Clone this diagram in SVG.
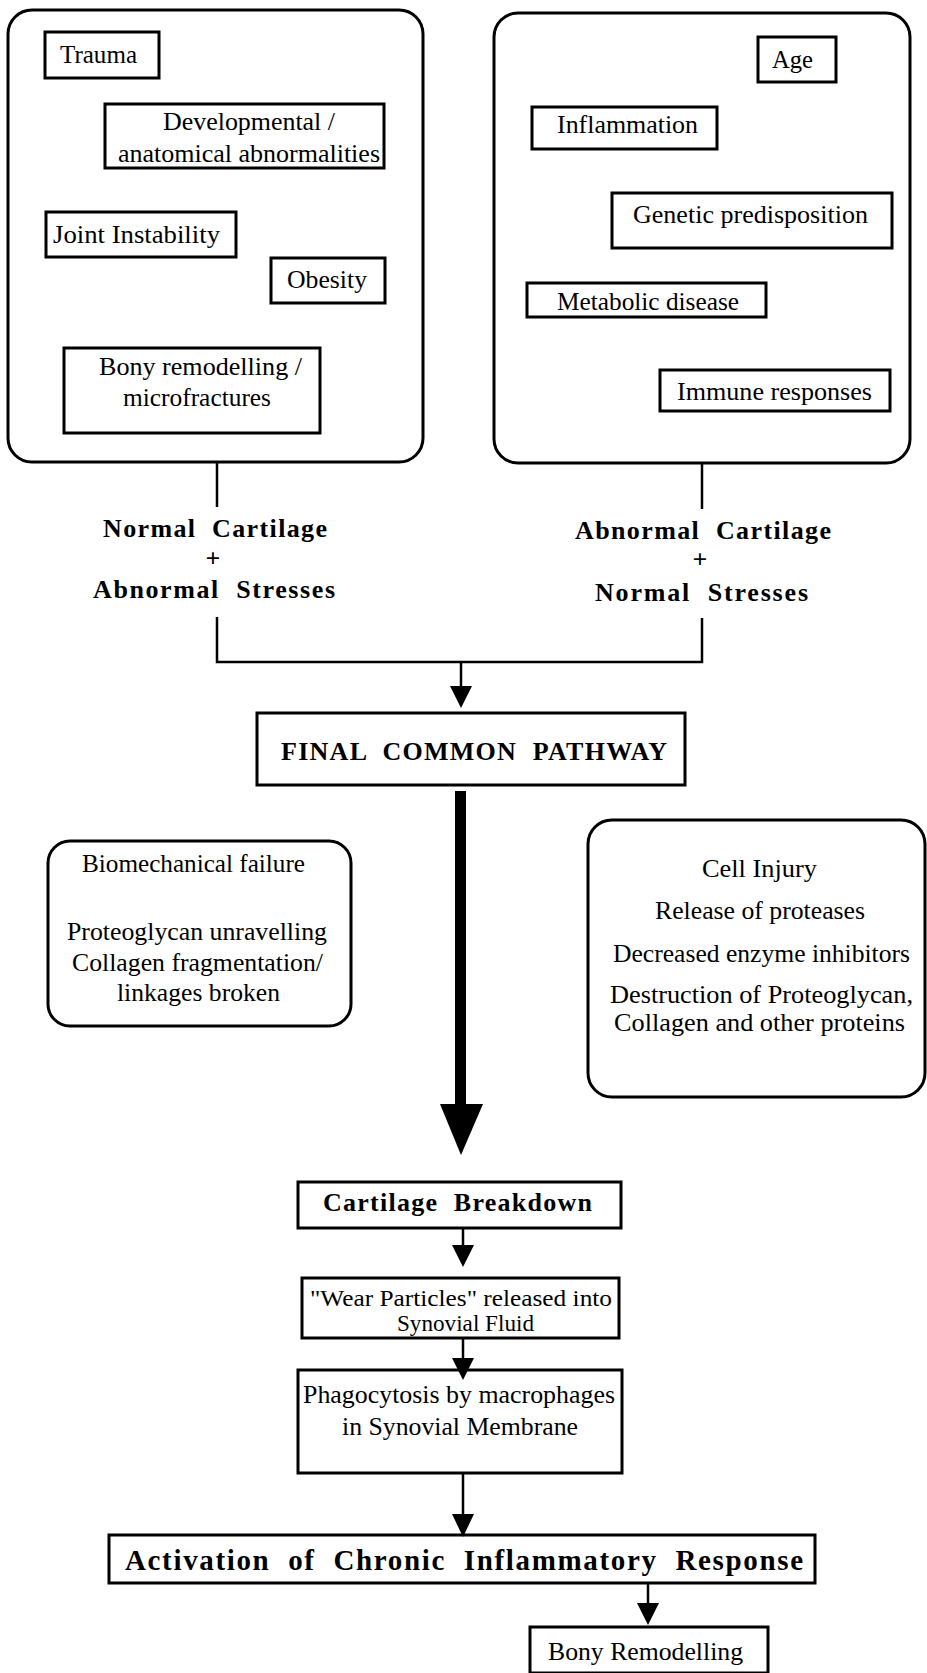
<svg xmlns="http://www.w3.org/2000/svg" width="927" height="1673" viewBox="0 0 927 1673">
<style>
.box{fill:#fff;stroke:#000;stroke-width:3}
.rbox{fill:#fff;stroke:#000;stroke-width:3}
.ln{fill:none;stroke:#000;stroke-width:2.5}
.hd{fill:#000;stroke:none}
.t{font-family:"Liberation Serif","Times New Roman",serif;font-size:26px;fill:#000}
.b{font-family:"Liberation Serif","Times New Roman",serif;font-size:26px;font-weight:bold;fill:#000}
</style>
<rect width="927" height="1673" fill="#fff"/>

<g id="risk-mechanical">
<rect class="rbox" x="8" y="10" width="415" height="452" rx="24"/>
<g id="trauma"><rect class="box" x="45" y="32" width="114" height="46"/><text class="t" x="60" y="63" textLength="77" lengthAdjust="spacingAndGlyphs">Trauma</text></g>
<g id="developmental"><rect class="box" x="105" y="104" width="279" height="64"/><text class="t" x="163" y="130" textLength="172" lengthAdjust="spacingAndGlyphs">Developmental /</text><text class="t" x="118" y="162" textLength="262" lengthAdjust="spacingAndGlyphs">anatomical abnormalities</text></g>
<g id="joint-instability"><rect class="box" x="46" y="212" width="190" height="45"/><text class="t" x="53" y="243" textLength="167" lengthAdjust="spacingAndGlyphs">Joint Instability</text></g>
<g id="obesity"><rect class="box" x="271" y="258" width="114" height="45"/><text class="t" x="287" y="288" textLength="80" lengthAdjust="spacingAndGlyphs">Obesity</text></g>
<g id="bony-remodelling-micro"><rect class="box" x="64" y="348" width="256" height="85"/><text class="t" x="99" y="375" textLength="203" lengthAdjust="spacingAndGlyphs">Bony remodelling /</text><text class="t" x="123" y="406" textLength="148" lengthAdjust="spacingAndGlyphs">microfractures</text></g>
</g>

<g id="risk-systemic">
<rect class="rbox" x="494" y="13" width="416" height="450" rx="24"/>
<g id="age"><rect class="box" x="758" y="37" width="78" height="45"/><text class="t" x="772" y="68" textLength="41" lengthAdjust="spacingAndGlyphs">Age</text></g>
<g id="inflammation"><rect class="box" x="532" y="107" width="185" height="42"/><text class="t" x="557" y="133" textLength="141" lengthAdjust="spacingAndGlyphs">Inflammation</text></g>
<g id="genetic"><rect class="box" x="612" y="193" width="280" height="55"/><text class="t" x="633" y="223" textLength="235" lengthAdjust="spacingAndGlyphs">Genetic predisposition</text></g>
<g id="metabolic"><rect class="box" x="527" y="283" width="239" height="34"/><text class="t" x="557" y="310" textLength="182" lengthAdjust="spacingAndGlyphs">Metabolic disease</text></g>
<g id="immune"><rect class="box" x="660" y="370" width="230" height="41"/><text class="t" x="677" y="400" textLength="195" lengthAdjust="spacingAndGlyphs">Immune responses</text></g>
</g>

<g id="label-left">
<text class="b" x="103" y="537" textLength="224" xml:space="preserve">Normal  Cartilage</text>
<text class="b" x="213" y="567" text-anchor="middle">+</text>
<text class="b" x="93" y="598" textLength="242" xml:space="preserve">Abnormal  Stresses</text>
</g>
<g id="label-right">
<text class="b" x="575" y="539" textLength="256" xml:space="preserve">Abnormal  Cartilage</text>
<text class="b" x="700" y="568" text-anchor="middle">+</text>
<text class="b" x="595" y="601" textLength="213" xml:space="preserve">Normal  Stresses</text>
</g>

<g id="final-common-pathway"><rect class="box" x="257" y="713" width="428" height="72"/><text class="b" x="281" y="760" textLength="386" xml:space="preserve">FINAL  COMMON  PATHWAY</text></g>

<g id="biomechanical"><rect class="rbox" x="48" y="841" width="303" height="185" rx="22"/>
<text class="t" x="82" y="872" textLength="223" lengthAdjust="spacingAndGlyphs">Biomechanical failure</text>
<text class="t" x="67" y="940" textLength="260" lengthAdjust="spacingAndGlyphs">Proteoglycan unravelling</text>
<text class="t" x="72" y="971" textLength="251" lengthAdjust="spacingAndGlyphs">Collagen fragmentation/</text>
<text class="t" x="117" y="1001" textLength="163" lengthAdjust="spacingAndGlyphs">linkages broken</text>
</g>

<g id="cell-injury"><rect class="rbox" x="588" y="820" width="337" height="277" rx="24"/>
<text class="t" x="702" y="877" textLength="115" lengthAdjust="spacingAndGlyphs">Cell Injury</text>
<text class="t" x="655" y="919" textLength="210" lengthAdjust="spacingAndGlyphs">Release of proteases</text>
<text class="t" x="613" y="962" textLength="297" lengthAdjust="spacingAndGlyphs">Decreased enzyme inhibitors</text>
<text class="t" x="610" y="1003" textLength="303" lengthAdjust="spacingAndGlyphs">Destruction of Proteoglycan,</text>
<text class="t" x="614" y="1031" textLength="291" lengthAdjust="spacingAndGlyphs">Collagen and other proteins</text>
</g>

<g id="cartilage-breakdown"><rect class="box" x="298" y="1182" width="323" height="46"/><text class="b" x="323" y="1211" textLength="269" xml:space="preserve">Cartilage  Breakdown</text></g>

<g id="wear-particles"><rect class="box" x="302" y="1278" width="317" height="60"/>
<text class="t" x="310" y="1306" style="font-size:24px" textLength="302" lengthAdjust="spacingAndGlyphs">"Wear Particles" released into</text>
<text class="t" x="397" y="1331" style="font-size:24px" textLength="137" lengthAdjust="spacingAndGlyphs">Synovial Fluid</text>
</g>

<g id="phagocytosis"><rect class="box" x="298" y="1370" width="324" height="103"/>
<text class="t" x="303" y="1403" textLength="312" lengthAdjust="spacingAndGlyphs">Phagocytosis by macrophages</text>
<text class="t" x="342" y="1435" textLength="236" lengthAdjust="spacingAndGlyphs">in Synovial Membrane</text>
</g>

<g id="activation"><rect class="box" x="109" y="1535" width="706" height="48"/><text class="b" x="125" y="1570" style="font-size:29px" textLength="678" xml:space="preserve">Activation  of  Chronic  Inflammatory  Response</text></g>

<g id="bony-remodelling"><rect class="box" x="530" y="1627" width="238" height="46"/><text class="t" x="548" y="1660" textLength="195" lengthAdjust="spacingAndGlyphs">Bony Remodelling</text></g>

<g id="connectors">
<path class="ln" d="M217 462 V507"/>
<path class="ln" d="M702 463 V509"/>
<path class="ln" d="M217 617 V662 H702 V618"/>
<path class="ln" d="M461 662 V688"/>
<polygon class="hd" points="450,686 472,686 461,708"/>
<rect class="hd" x="455" y="791" width="11" height="316"/>
<polygon class="hd" points="440,1104 483,1104 461,1155"/>
<path class="ln" d="M463 1228 V1247"/>
<polygon class="hd" points="452,1245 474,1245 463,1267"/>
<path class="ln" d="M463 1338 V1360"/>
<polygon class="hd" points="452,1358 474,1358 463,1380"/>
<path class="ln" d="M463 1473 V1516"/>
<polygon class="hd" points="452,1514 474,1514 463,1537"/>
<path class="ln" d="M648 1583 V1605"/>
<polygon class="hd" points="637,1603 659,1603 648,1625"/>
</g>
</svg>
